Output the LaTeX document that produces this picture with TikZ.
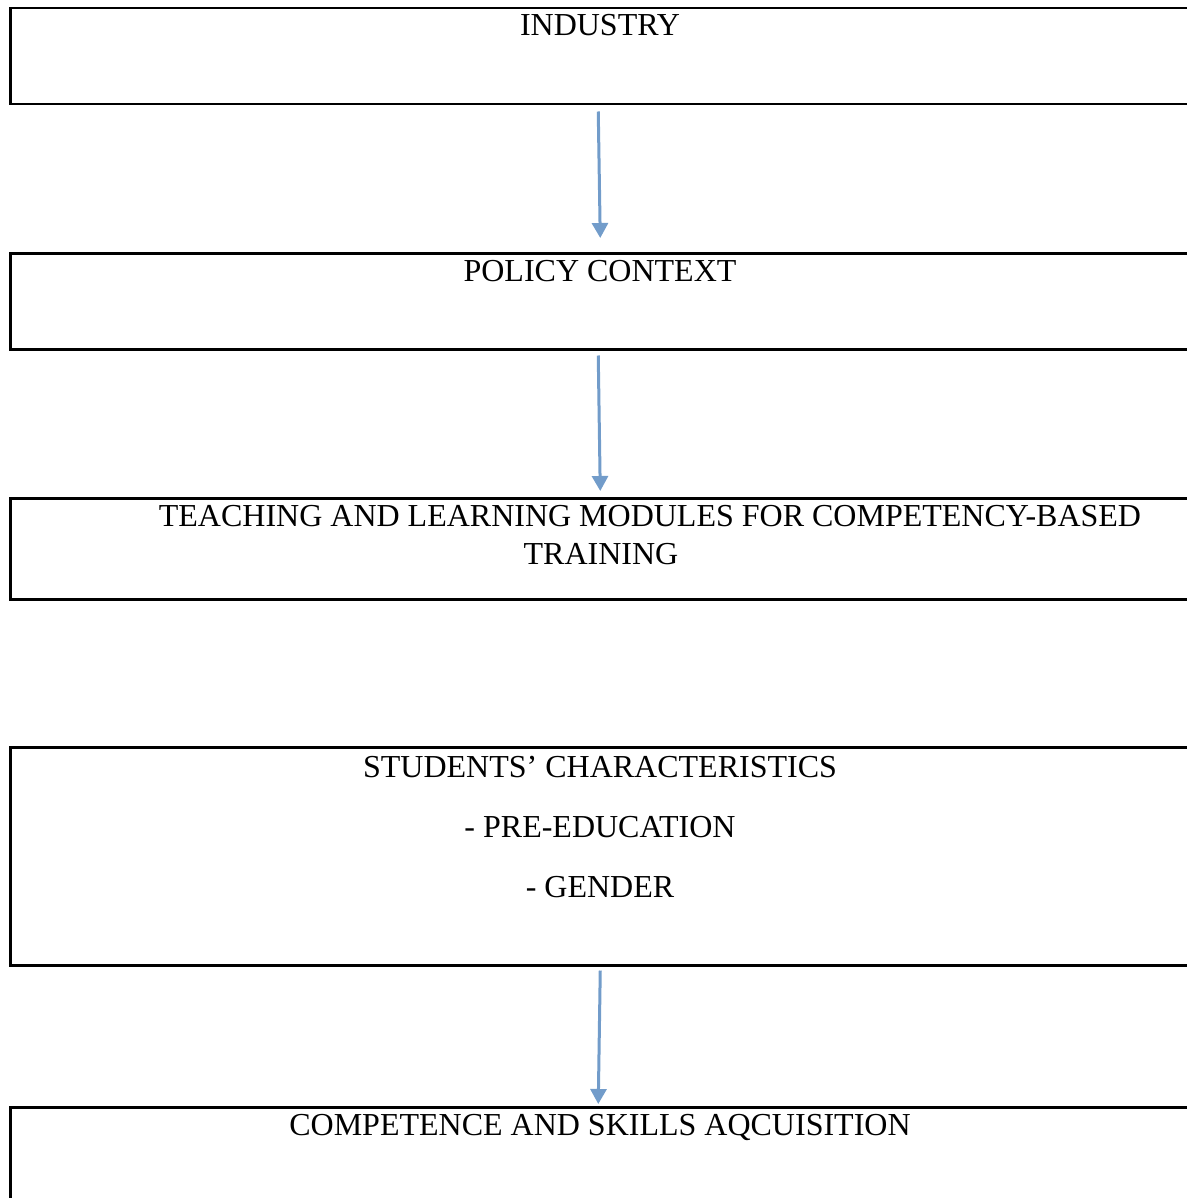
\documentclass[tikz,border=0pt]{standalone}
\usepackage{fontspec}
\setmainfont{Liberation Serif}
\usepackage{xcolor}
\usepackage{tikz}
\usetikzlibrary{arrows.meta,positioning}

\definecolor{arrowblue}{RGB}{114,156,202}

\begin{document}
\begin{tikzpicture}[
    x=0.5pt, y=-0.5pt,
    frame/.style={draw, line width=1.25pt, anchor=north west, inner sep=0pt, minimum width=600pt},
    caption/.style={font=\fontsize{16}{19}\selectfont, anchor=base, inner sep=0pt},
    flow/.style={draw=arrowblue, line width=1.5pt, -{Triangle[length=7.5pt,width=8pt]}}
]
    \useasboundingbox (0,0) rectangle (1187,1198);

    % Boxes
    \node[frame, minimum height=48pt] (industrybox) at (9,7) {};
    \node[frame, minimum height=48pt] (policybox) at (9,252) {};
    \node[frame, minimum height=50.5pt] (modulebox) at (9,497) {};
    \node[frame, minimum height=109pt] (studentbox) at (9,746) {};
    \node[frame, minimum height=100pt] (skillbox) at (9,1106) {};

    % Texts
    \node[caption] (industry) at (600,36) {INDUSTRY};
    \node[caption] (policy) at (600,281) {POLICY CONTEXT};
    \node[caption] (modules) at (650,526) {TEACHING AND LEARNING MODULES FOR COMPETENCY-BASED};
    \node[caption] (training) at (601,564) {TRAINING};
    \node[caption] (students) at (600,777) {STUDENTS’ CHARACTERISTICS};
    \node[caption] (preedu) at (600,837) {- PRE-EDUCATION};
    \node[caption] (gender) at (600,897) {- GENDER};
    \node[caption] (skills) at (600,1135) {COMPETENCE AND SKILLS AQCUISITION};

    % Arrows
    \draw[flow] ([xshift=-6pt,yshift=-3pt]industrybox.south) -- ([xshift=-5pt,yshift=7pt]policybox.north);
    \draw[flow] ([xshift=-6pt,yshift=-2.5pt]policybox.south) -- ([xshift=-5pt,yshift=3pt]modulebox.north);
    \draw[flow] ([xshift=-5pt,yshift=-2pt]studentbox.south) -- ([xshift=-6pt,yshift=1pt]skillbox.north);
\end{tikzpicture}
\end{document}
